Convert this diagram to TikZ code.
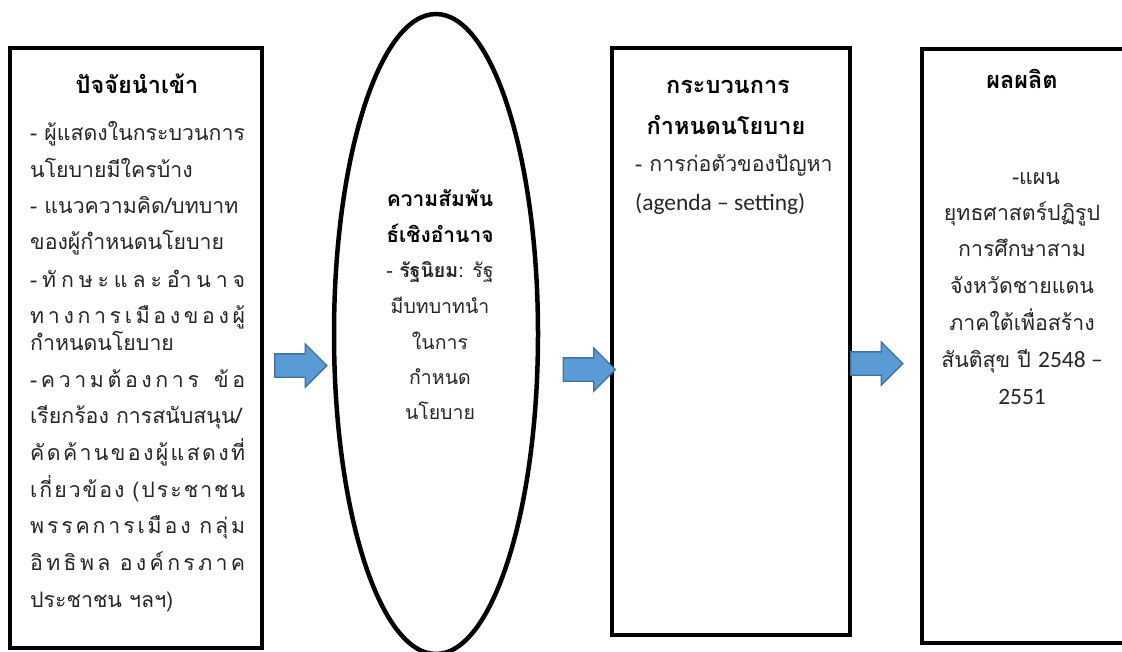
\documentclass[tikz,border=0pt]{standalone}
\usepackage{fontspec}
\setmainfont[Script=Thai]{Loma}
\newfontfamily\lat[Scale=1.1]{Carlito}
\usetikzlibrary{shapes.arrows,shapes.geometric}

\definecolor{arrowfill}{HTML}{5B9BD5}
\definecolor{arrowedge}{HTML}{41719C}
\definecolor{bodyink}{HTML}{262626}

% spread a line of Thai clusters over the column width
\newcommand{\spreadline}[1]{\makebox[215pt][s]{#1}}

\tikzset{
  frame/.style={draw=black, line width=4pt, inner sep=0pt},
  oval/.style={ellipse, draw=black, line width=4.5pt, inner sep=0pt},
  flow/.style={single arrow, draw=arrowedge, fill=arrowfill, line width=1.3pt,
    inner xsep=0pt, inner ysep=11pt, single arrow head extend=10pt,
    minimum height=52pt},
  body/.style={inner sep=0pt, text=bodyink, font=\fontsize{21.3}{24}\selectfont},
  head/.style={inner sep=0pt, text=black, font=\fontsize{23.5}{26}\selectfont\bfseries},
  obody/.style={inner sep=0pt, text=bodyink, font=\fontsize{19.5}{22}\selectfont},
  ohead/.style={inner sep=0pt, text=black, font=\fontsize{21}{24}\selectfont\bfseries},
}

\begin{document}
\begin{tikzpicture}[x=1pt,y=-1pt]
\useasboundingbox (0,0) rectangle (1122,651);
\fill[white] (0,0) rectangle (1122,651);

% four stages
\node[frame, minimum width=252pt, minimum height=600pt] (inputs) at (136,348) {};
\node[oval, minimum width=204pt, minimum height=640pt] (power) at (436,334) {};
\node[frame, minimum width=238pt, minimum height=587pt] (process) at (731,341.5) {};
\node[frame, minimum width=208pt, minimum height=594pt] (output) at (1026,346) {};

% block arrows between the stages
\node[flow] (a1) at (295,365.5) {};
\node[flow] (a2) at (583.5,369.5) {};
\node[flow] (a3) at (871,363.5) {};

% --- inputs
\node[head, anchor=base] (t1) at (137,93) {ปัจจัยนำเข้า};
\node[body, anchor=base west] (i1) at (30,140) {- ผู้แสดงในกระบวนการ};
\node[body, anchor=base west] (i2) at (30,177) {นโยบายมีใครบ้าง};
\node[body, anchor=base west] (i3) at (30,213) {- แนวความคิด/บทบาท};
\node[body, anchor=base west] (i4) at (30,249) {ของผู้กำหนดนโยบาย};
\node[body, anchor=base west] (i5) at (30,287) {\spreadline{-\hfill ทั\hfill ก\hfill ษ\hfill ะ\hfill แ\hfill ล\hfill ะ\hfill อำ\hfill น\hfill า\hfill จ}};
\node[body, anchor=base west] (i6) at (30,323) {\spreadline{ท\hfill า\hfill ง\hfill ก\hfill า\hfill ร\hfill เ\hfill มื\hfill อ\hfill ง\hfill ข\hfill อ\hfill ง\hfill ผู้}};
\node[body, anchor=base west] (i7) at (30,350) {กำหนดนโยบาย};
\node[body, anchor=base west] (i8) at (30,387) {\spreadline{-\hfill ค\hfill ว\hfill า\hfill ม\hfill ต้\hfill อ\hfill ง\hfill ก\hfill า\hfill ร\hfill\hspace{8pt}\hfill ข้\hfill อ}};
\node[body, anchor=base west] (i9) at (30,423) {เรียกร้อง การสนับสนุน/};
\node[body, anchor=base west] (i10) at (30,460) {\spreadline{คั\hfill ด\hfill ค้\hfill า\hfill น\hfill ข\hfill อ\hfill ง\hfill ผู้\hfill แ\hfill ส\hfill ด\hfill ง\hfill ที่}};
\node[body, anchor=base west] (i11) at (30,497) {\spreadline{เ\hfill กี่\hfill ย\hfill ว\hfill ข้\hfill อ\hfill ง\hspace{6pt}\hfill (\hfill ป\hfill ร\hfill ะ\hfill ช\hfill า\hfill ช\hfill น}};
\node[body, anchor=base west] (i12) at (30,533) {\spreadline{พ\hfill ร\hfill ร\hfill ค\hfill ก\hfill า\hfill ร\hfill เ\hfill มื\hfill อ\hfill ง\hspace{6pt}\hfill ก\hfill ลุ่\hfill ม}};
\node[body, anchor=base west] (i13) at (30,570) {\spreadline{อิ\hfill ท\hfill ธิ\hfill พ\hfill ล\hspace{6pt}\hfill อ\hfill ง\hfill ค์\hfill ก\hfill ร\hfill ภ\hfill า\hfill ค}};
\node[body, anchor=base west] (i14) at (30,607) {ประชาชน ฯลฯ)};

% --- power relations
\node[ohead, anchor=base] (p1) at (440,206) {ความสัมพัน};
\node[ohead, anchor=base] (p2) at (440,242) {ธ์เชิงอำนาจ};
\node[obody, anchor=base] (p3) at (440,277) {- {\bfseries รัฐนิยม}: รัฐ};
\node[obody, anchor=base] (p4) at (440,313) {มีบทบาทนำ};
\node[obody, anchor=base] (p5) at (440,349) {ในการ};
\node[obody, anchor=base] (p6) at (440,384) {กำหนด};
\node[obody, anchor=base] (p7) at (440,419) {นโยบาย};

% --- policy process
\node[head, anchor=base] (r1) at (728,93) {กระบวนการ};
\node[head, anchor=base] (r2) at (726,134) {กำหนดนโยบาย};
\node[body, anchor=base west] (r3) at (635,171) {- การก่อตัวของปัญหา};
\node[body, anchor=base west] (r4) at (635,210) {{\lat (agenda – setting)}};

% --- output
\node[head, anchor=base] (o1) at (1022,88) {ผลผลิต};
\node[body, anchor=base] (o2) at (1036,184) {-แผน};
\node[body, anchor=base] (o3) at (1022,220) {ยุทธศาสตร์ปฏิรูป};
\node[body, anchor=base] (o4) at (1022,256) {การศึกษาสาม};
\node[body, anchor=base] (o5) at (1022,293) {จังหวัดชายแดน};
\node[body, anchor=base] (o6) at (1022,330) {ภาคใต้เพื่อสร้าง};
\node[body, anchor=base] (o7) at (1022,367) {สันติสุข ปี {\lat 2548 –}};
\node[body, anchor=base] (o8) at (1022,404) {{\lat 2551}};
\end{tikzpicture}
\end{document}
